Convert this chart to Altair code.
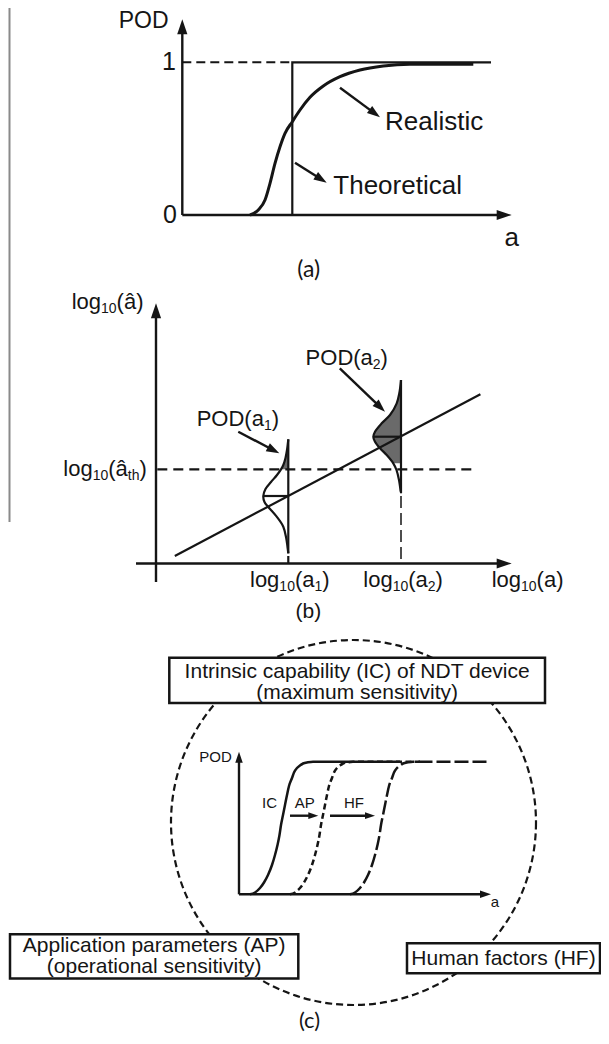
import math
import altair as alt
import pandas as pd

INK = "#151515"
GRAY_FILL = "#6a6a6a"
FONT = "Liberation Sans"
FONT2 = "Lato"

# ---------------- panel (a): POD vs a ----------------
a_real_x = [250, 258.3, 265, 270, 275, 280, 285, 292.3, 300, 310, 323.3, 340, 360, 383.3, 410, 473.3]
a_real_y = [215, 210, 200, 183.3, 163.3, 146.7, 133.3, 121.7, 110, 97.3, 86, 76.7, 70, 66, 64.3, 64.3]
a_theo_x = [292.3, 292.3, 491]
a_theo_y = [215, 62.3, 62.3]
a_one_dash_x = [182.3, 292.3]
a_one_dash_y = [62.3, 62.3]

# ---------------- panel (b): log(a_hat) vs log(a) ----------------
b_reg_x = [174.8, 480.4]
b_reg_y = [556, 394.3]
b_th_x = [157.3, 476.9]
b_th_y = [469.3, 469.3]
d1_x = [288.3, 287, 285.5, 283.3, 281, 277, 271, 265.5, 263.3, 264.5, 268.3, 276.7, 283.3, 286.2, 287.5, 288.3]
d1_y = [439.3, 450, 458, 465, 469.3, 475, 482, 489, 496, 502, 507, 516.7, 526.7, 538, 547, 553.3]
d2_x = [401, 399.3, 396.7, 390, 381.7, 375, 373.3, 375, 380, 386.7, 393.3, 396.5, 399, 400.7]
d2_y = [380, 393.3, 403.3, 415, 423.3, 431.7, 436.7, 441.7, 448.3, 455, 463.3, 470, 480, 491.7]
d1_top, d1_bot, d1_mean = 439.3, 553.3, 496
d2_top, d2_bot, d2_mean = 380, 493.3, 436.7
d1_pos, d2_pos = 288.3, 401

# ---------------- panel (c): IC / AP / HF curves ----------------
c_y = [894.3, 892.5, 888, 882.5, 875, 865, 855, 845, 835, 825, 815, 805, 795, 786, 778, 772.5, 768, 765.5, 763.5, 762.3, 761.7, 761.7]
ic_x = [250, 255, 260, 264, 268, 272, 275, 277.5, 279.5, 281, 283, 285, 287, 289, 292, 294, 297, 300, 303, 308, 313, 400]
ap_x = [290, 295, 300, 304, 308, 312, 315, 317.5, 319.5, 321, 323, 325, 327, 329, 332, 334, 337, 340, 343, 348, 353, 420]
hf_x = [350, 355, 360, 364, 368, 372, 375, 377.5, 379.5, 381, 383, 385, 387, 389, 392, 394, 397, 400, 403, 408, 413, 487]
circle_c = (353.5, 822.5)
circle_d = 365
box_labels = [["Intrinsic capability (IC) of NDT device", "(maximum sensitivity)"],
              ["Application parameters (AP)", "(operational sensitivity)"],
              ["Human factors (HF)"]]
box_x1 = [169.3, 10, 407]
box_x2 = [545, 298.3, 600]
box_y1 = [657.7, 934.3, 943.3]
box_y2 = [703, 978.5, 973.3]
box_line_y = [[671.5, 692.5], [946, 967], [958.5]]
box_font = [21, 21, 21]

# ---------------- canvas scales ----------------
W, H = 593, 1026
XS = alt.Scale(domain=[8, 8 + W], nice=False, zero=False)
YS = alt.Scale(domain=[8, 8 + H], nice=False, zero=False, reverse=True)


def X(f="x"):
    return alt.X(f"{f}:Q", scale=XS, axis=None)


def Y(f="y"):
    return alt.Y(f"{f}:Q", scale=YS, axis=None)


def lines(items, width, dash=None, color=INK, interp="linear"):
    rows = []
    for pid, (xs, ys) in enumerate(items):
        for i, (x, y) in enumerate(zip(xs, ys)):
            rows.append(dict(pid=pid, i=i, x=x, y=y))
    kw = dict(strokeWidth=width, color=color, interpolate=interp, strokeCap="butt")
    if dash:
        kw["strokeDash"] = dash
    return alt.Chart(pd.DataFrame(rows)).mark_line(**kw).encode(
        x=X(), y=Y(), detail="pid:N", order="i:Q")


arrow_shafts = []
arrow_heads = []


def arrow(x0, y0, x1, y1, r=13, back=7):
    dx, dy = x1 - x0, y1 - y0
    L = math.hypot(dx, dy)
    ux, uy = dx / L, dy / L
    arrow_shafts.append(([x0, x1 - ux * back], [y0, y1 - uy * back]))
    ang = math.degrees(math.atan2(dx, -dy)) % 360
    arrow_heads.append(dict(x=x1, y=y1, ang=ang, s=(2 * r) ** 2))


# axes (drawn as arrows)
arrow(182.3, 215, 182.3, 19.3, r=15, back=9)
arrow(182.3, 215, 511.7, 215, r=15, back=9)
arrow(156, 582, 156, 303.3, r=15, back=9)
arrow(136, 563.5, 511.7, 563.5, r=15, back=9)
arrow(239, 894.3, 239, 751.7, r=11, back=7)
arrow(239, 894.3, 491, 894.3, r=11, back=7)
# pointer arrows
arrow(340, 87.7, 380, 117.3)
arrow(295, 162.7, 326.7, 182.7)
arrow(238.3, 431.7, 279.3, 453.3)
arrow(339.8, 368.3, 385, 411.7)
arrow(290, 815.7, 318.3, 815.7, r=10, back=6)
arrow(330, 815.7, 375, 815.7, r=10, back=6)

ARROW_SHAPE = "M0,0L0.34,1L-0.34,1Z"

layers = []

# left gray border line
layers.append(lines([([9.5, 9.5], [8, 522])], 2, color="#8a8a8a"))

# circle (c)
circ_df = pd.DataFrame([dict(x=circle_c[0], y=circle_c[1])])
layers.append(alt.Chart(circ_df).mark_point(
    shape="circle", size=circle_d ** 2, filled=False, stroke=INK, strokeWidth=2.2,
    strokeDash=[7, 4], opacity=1).encode(x=X(), y=Y()))

# boxes
box_df = pd.DataFrame(dict(x=box_x1, x2=box_x2, y=box_y1, y2=box_y2))
layers.append(alt.Chart(box_df).mark_rect(fill="white", stroke=INK, strokeWidth=2.5).encode(
    x=X(), x2="x2:Q", y=Y(), y2="y2:Q"))

# gray filled tails of distributions above threshold
area_rows = []
for pid, (xs, ys, pos) in enumerate([(d1_x, d1_y, d1_pos), (d2_x, d2_y, d2_pos)]):
    for x, y in zip(xs, ys):
        if y <= 469.3 + 0.01:
            area_rows.append(dict(pid=pid, x=x, x2=pos, y=y))
layers.append(alt.Chart(pd.DataFrame(area_rows)).mark_area(
    orient="horizontal", color=GRAY_FILL, interpolate="linear", opacity=1).encode(
    y=Y(), x=X(), x2="x2:Q", detail="pid:N"))

# solid straight lines
layers.append(lines([
    (a_theo_x, a_theo_y),
    (b_reg_x, b_reg_y),
    ([d1_pos, d1_pos], [d1_top, d1_bot]),
    ([d1_pos, d1_pos], [556, 563]),
    ([263.3, d1_pos], [d1_mean, d1_mean]),
    ([d2_pos, d2_pos], [d2_top, d2_bot]),
    ([373.3, d2_pos], [d2_mean, d2_mean]),
], 2.2))
layers.append(lines(arrow_shafts, 2.4))

# dashed straight lines
layers.append(lines([(a_one_dash_x, a_one_dash_y)], 2, dash=[9, 5]))
layers.append(lines([(b_th_x, b_th_y)], 2.2, dash=[10, 6]))
layers.append(lines([([d2_pos, d2_pos], [496, 563])], 1.5, dash=[12, 5]))

# curves
layers.append(lines([(a_real_x, a_real_y)], 3, interp="monotone"))
layers.append(lines([(d1_x, d1_y), (d2_x, d2_y)], 2.2, interp="catmull-rom"))
layers.append(lines([(ic_x, c_y)], 2.5, interp="monotone"))
layers.append(lines([(ap_x, c_y)], 2.5, dash=[6, 3.5], interp="monotone"))
layers.append(lines([(hf_x, c_y)], 2.5, dash=[14, 4], interp="monotone"))

# arrow heads
layers.append(alt.Chart(pd.DataFrame(arrow_heads)).mark_point(
    shape=ARROW_SHAPE, filled=True, color=INK, opacity=1, strokeWidth=0).encode(
    x=X(), y=Y(), angle=alt.Angle("ang:Q", scale=None), size=alt.Size("s:Q", scale=None)))

# ---------------- texts ----------------
texts = []


def T(x, y, text, size, align="center", font=FONT):
    texts.append(dict(x=x, y=y, text=text, size=size, align=align, font=font))


# (a)
T(143.7, 21, "POD", 23)
T(169, 62.3, "1", 25)
T(170, 215, "0", 25)
T(511.7, 238, "a", 26)
T(385, 121.7, "Realistic", 26, "left")
T(333.3, 186, "Theoretical", 26, "left")
T(308.7, 270, "(a)", 23, font=FONT2)
# (b)
T(308.3, 612, "(b)", 21)
# (c)
for lbls, ys, xa, xb, fs in zip(box_labels, box_line_y, box_x1, box_x2, box_font):
    for t, yy in zip(lbls, ys):
        T((xa + xb) / 2, yy, t, fs)
T(215.5, 756.7, "POD", 15)
T(269.5, 803.3, "IC", 15)
T(304.7, 803.3, "AP", 15)
T(354, 803.3, "HF", 15)
T(495, 901.7, "a", 15)
T(309.5, 1021, "(c)", 22, font=FONT2)

# labels with subscripts, composed of runs (text, is_sub)
CW = {'l': .222, 'o': .556, 'g': .556, '1': .556, '0': .556, '(': .333, ')': .333, 'a': .556,
      'â': .556, 't': .278, 'h': .556, '2': .556, 'P': .667, 'O': .778, 'D': .722}
MAIN, SUB, SUB_DY = 22, 14, 6.5


def sub_label(x, y, runs):
    for txt, is_sub in runs:
        fs = SUB if is_sub else MAIN
        T(x, y + (SUB_DY if is_sub else 0), txt, fs, "left")
        x += sum(CW.get(c, .556) for c in txt) * fs


sub_label(71.7, 302, [("log", 0), ("10", 1), ("(â)", 0)])
sub_label(63.3, 469.3, [("log", 0), ("10", 1), ("(â", 0), ("th", 1), (")", 0)])
sub_label(250, 580, [("log", 0), ("10", 1), ("(a", 0), ("1", 1), (")", 0)])
sub_label(363.3, 580, [("log", 0), ("10", 1), ("(a", 0), ("2", 1), (")", 0)])
sub_label(491.7, 580, [("log", 0), ("10", 1), ("(a)", 0)])
sub_label(196.7, 419, [("POD(a", 0), ("1", 1), (")", 0)])
sub_label(305.6, 358.3, [("POD(a", 0), ("2", 1), (")", 0)])

tdf = pd.DataFrame(texts)
for (align, font), g in tdf.groupby(["align", "font"]):
    layers.append(alt.Chart(g.reset_index(drop=True)).mark_text(
        align=align, baseline="middle", font=font, color=INK).encode(
        x=X(), y=Y(), text="text:N", size=alt.Size("size:Q", scale=None)))

chart = alt.layer(*layers).properties(
    width=W, height=H, autosize=alt.AutoSizeParams(type="none"), padding=0
).configure_view(stroke=None)

chart.save("out.html", embed_options={"renderer": "svg", "actions": False})
